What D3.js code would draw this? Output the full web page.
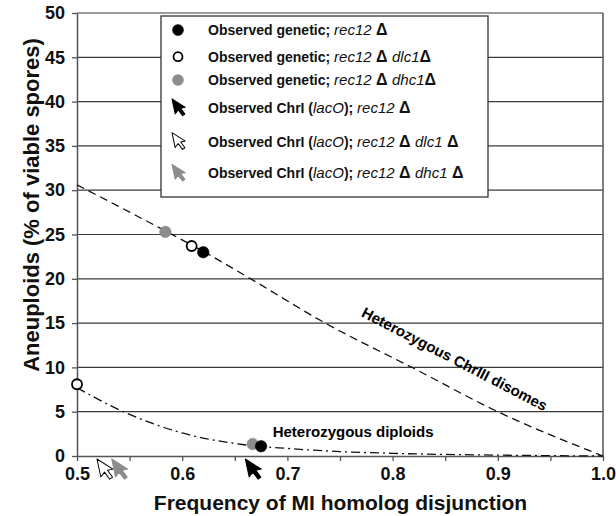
<!DOCTYPE html>
<html>
<head>
<meta charset="utf-8">
<script src="https://cdn.jsdelivr.net/npm/d3@7"></script>
<style>
  body { margin: 0; background: #fff; }
  svg text { font-family: "Liberation Sans", Arial, Helvetica, sans-serif; }
</style>
</head>
<body>
<div id="chart"></div>
<script>
// model curves
let disomeX = [0.5, 0.584, 0.62, 0.665, 0.736, 0.82, 0.9, 1.0]
let disomeY = [30.6, 25.4, 23.1, 20, 15, 9.9, 5, 0]
let diploidX = [0.5, 0.544, 0.6, 0.657, 0.7, 0.75, 0.8, 0.9, 1.0]
let diploidY = [7.7, 5, 2.6, 1.3, 0.85, 0.5, 0.3, 0.1, 0]

// observed values: rec12, rec12 dlc1, rec12 dhc1
let strains = ["rec12", "rec12 dlc1", "rec12 dhc1"]
let disomeObsX = [0.620, 0.609, 0.584]
let disomeObsY = [23.0, 23.7, 25.3]
let diploidObsX = [0.675, 0.5, 0.667]
let diploidObsY = [1.1, 8.1, 1.35]
let chrIObsX = [0.66, 0.519, 0.533]

let xTicks = [0.5, 0.55, 0.6, 0.65, 0.7, 0.75, 0.8, 0.85, 0.9, 0.95, 1.0]
let xTickLabels = ["0.5", "", "0.6", "", "0.7", "", "0.8", "", "0.9", "", "1.0"]
let yTicks = [0, 5, 10, 15, 20, 25, 30, 35, 40, 45, 50]

let legendLabels = [
  [["Observed genetic; ", "b"], ["rec12", "i"], [" Δ", "d"]],
  [["Observed genetic; ", "b"], ["rec12", "i"], [" Δ ", "d"], ["dlc1", "i"], ["Δ", "d"]],
  [["Observed genetic; ", "b"], ["rec12", "i"], [" Δ ", "d"], ["dhc1", "i"], ["Δ", "d"]],
  [["Observed ChrI (", "b"], ["lacO", "i"], ["); ", "b"], ["rec12", "i"], [" Δ", "d"]],
  [["Observed ChrI (", "b"], ["lacO", "i"], ["); ", "b"], ["rec12", "i"], [" Δ ", "d"], ["dlc1", "i"], [" Δ", "d"]],
  [["Observed ChrI (", "b"], ["lacO", "i"], ["); ", "b"], ["rec12", "i"], [" Δ ", "d"], ["dhc1", "i"], [" Δ", "d"]]
]

// styles per strain
let fills = ["#000", "#fff", "#8c8c8c"]
let strokes = ["#000", "#000", "#8c8c8c"]
let drawOrder = [2, 1, 0]

let margin = {top: 13, right: 13, bottom: 60, left: 77},
  width = 616 - margin.left - margin.right,
  height = 516 - margin.top - margin.bottom

let root = d3.select("#chart")
  .append("svg")
  .attr("width", 616)
  .attr("height", 516)
let svg = root.append("g")
  .attr("transform", "translate(" + margin.left + "," + margin.top + ")")

let xScale = d3.scaleLinear().domain([0.5, 1]).range([0, width])
let yScale = d3.scaleLinear().domain([0, 50]).range([height, 0])

// horizontal grid
svg.append("g")
  .selectAll("line")
  .data(yTicks.filter(d => d > 0))
  .enter()
  .append("line")
  .attr("x1", 0).attr("x2", width)
  .attr("y1", d => yScale(d)).attr("y2", d => yScale(d))
  .attr("stroke", "#3a3a3a")
  .attr("stroke-width", 1.2)

// right frame
svg.append("line")
  .attr("x1", width).attr("x2", width)
  .attr("y1", 0).attr("y2", height)
  .attr("stroke", "#555").attr("stroke-width", 1.5)

let xAxis = d3.axisBottom(xScale)
  .tickValues(xTicks)
  .tickSize(5).tickSizeOuter(0).tickPadding(6)
  .tickFormat((d, i) => xTickLabels[i])
let gx = svg.append("g")
  .attr("transform", "translate(0," + height + ")")
  .call(xAxis)

let yAxis = d3.axisLeft(yScale)
  .tickValues(yTicks)
  .tickSize(5).tickSizeOuter(0).tickPadding(7)
let gy = svg.append("g").call(yAxis)

svg.selectAll(".domain").attr("stroke", "#555").attr("stroke-width", 1.5)
svg.selectAll(".tick line").attr("stroke", "#555").attr("stroke-width", 1.3)
svg.selectAll(".tick text")
  .attr("fill", "#111")
  .style("font-size", "18px")
  .style("font-weight", "bold")

// curves
let line = d3.line()
  .x(d => xScale(d[0]))
  .y(d => yScale(d[1]))
  .curve(d3.curveMonotoneX)

svg.append("path")
  .attr("d", line(d3.zip(disomeX, disomeY)))
  .attr("fill", "none")
  .attr("stroke", "#111")
  .attr("stroke-width", 1.3)
  .attr("stroke-dasharray", "8,5")

svg.append("path")
  .attr("d", line(d3.zip(diploidX, diploidY)))
  .attr("fill", "none")
  .attr("stroke", "#111")
  .attr("stroke-width", 1.3)
  .attr("stroke-dasharray", "9,4,2,4")

// curve labels
svg.append("text")
  .attr("transform", "translate(" + xScale(0.859) + "," + yScale(10.95) + ") rotate(27.5)")
  .attr("text-anchor", "middle")
  .attr("dy", "0.35em")
  .style("font-size", "15px")
  .style("font-weight", "bold")
  .text("Heterozygous ChrIII disomes")

svg.append("text")
  .attr("x", xScale(0.686))
  .attr("y", yScale(2.15))
  .style("font-size", "15px")
  .style("font-weight", "bold")
  .text("Heterozygous diploids")

// observed points
let pts = drawOrder.map(i => ({i: i, x: disomeObsX[i], y: disomeObsY[i]}))
  .concat(drawOrder.map(i => ({i: i, x: diploidObsX[i], y: diploidObsY[i]})))
svg.append("g")
  .selectAll("circle")
  .data(pts)
  .enter()
  .append("circle")
  .attr("cx", d => xScale(d.x))
  .attr("cy", d => yScale(d.y))
  .attr("r", d => d.i == 1 ? 5 : 5.8)
  .attr("fill", d => fills[d.i])
  .attr("stroke", d => strokes[d.i])
  .attr("stroke-width", d => d.i == 1 ? 1.8 : 0.5)

// mouse-pointer style arrow, tip at origin
let arrowPath = "M0,0 L0,16 L4,12.5 L7.2,19.5 L10,18.3 L6.9,11.5 L11.8,11.5 Z"
function arrow(g, i, s) {
  g.append("path")
    .attr("d", arrowPath)
    .attr("transform", "rotate(-12) scale(" + s + ")")
    .attr("fill", fills[i])
    .attr("stroke", i == 1 ? "#000" : fills[i])
    .attr("stroke-width", 1 / s)
    .attr("stroke-linejoin", "round")
}

[1, 2, 0].forEach(i => {
  let g = svg.append("g")
    .attr("transform", "translate(" + xScale(chrIObsX[i]) + "," + (yScale(0) + 3) + ")")
  arrow(g, i, 1.15)
})

// legend
let legend = root.append("g").attr("transform", "translate(161,16)")
legend.append("rect")
  .attr("width", 327).attr("height", 181)
  .attr("fill", "#fff")
  .attr("stroke", "#333")
  .attr("stroke-width", 1.3)

let rowY = [14, 40.7, 64, 92, 125.7, 157.3]
legendLabels.forEach((segs, r) => {
  let i = r % 3
  let row = legend.append("g").attr("transform", "translate(0," + rowY[r] + ")")
  if (r < 3) {
    row.append("circle")
      .attr("cx", 17).attr("cy", 0)
      .attr("r", i == 1 ? 4.5 : 5.5)
      .attr("fill", fills[i])
      .attr("stroke", strokes[i])
      .attr("stroke-width", i == 1 ? 1.8 : 0.5)
  } else {
    let g = row.append("g").attr("transform", "translate(11,-9)")
    arrow(g, i, 0.95)
  }
  let t = row.append("text")
    .attr("x", 47)
    .attr("y", 5)
    .style("font-size", "14px")
    .attr("fill", "#111")
  segs.forEach(s => {
    t.append("tspan")
      .text(s[0])
      .style("font-weight", s[1] == "i" ? "normal" : "bold")
      .style("font-style", s[1] == "i" ? "italic" : "normal")
      .style("font-size", s[1] == "d" ? "16px" : (s[1] == "i" ? "15px" : "14px"))
  })
})

// axis titles
root.append("text")
  .attr("transform", "translate(39,205) rotate(-90)")
  .attr("text-anchor", "middle")
  .style("font-size", "22px")
  .style("font-weight", "bold")
  .attr("fill", "#111")
  .text("Aneuploids (% of viable spores)")

root.append("text")
  .attr("x", 340.5)
  .attr("y", 510)
  .attr("text-anchor", "middle")
  .style("font-size", "21px")
  .style("font-weight", "bold")
  .attr("fill", "#111")
  .text("Frequency of MI homolog disjunction")
</script>
</body>
</html>
